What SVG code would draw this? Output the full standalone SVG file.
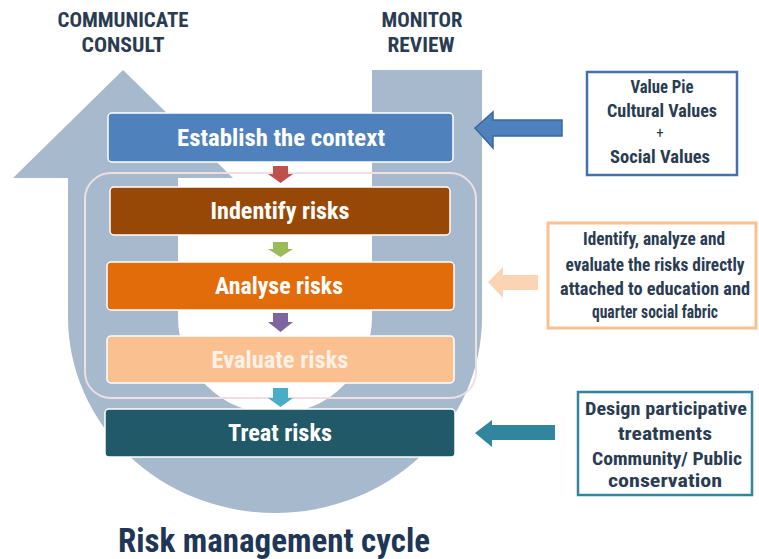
<svg xmlns="http://www.w3.org/2000/svg" width="759" height="559" viewBox="0 0 759 559">
<style>
.lbl{font-family:"Roboto Condensed","Liberation Sans Narrow","DejaVu Sans Condensed",Roboto,"Liberation Sans",sans-serif;font-weight:bold;text-anchor:middle}
.box{font-size:24px;fill:#ffffff}
.hdr{font-size:20px;fill:#2a3c52}
.side{font-size:17.5px;fill:#2a3c52}
.stage{stroke:#ffffff;stroke-width:1.5}
</style>
<rect width="759" height="559" fill="#ffffff"/>
<g id="cycle-arrow">
<path d="M123,70 L233,178 L178,178 L178,317 A97,97 0 0 0 372,317 L372,70 L482,70 L482,317 A207,196 0 0 1 68,317 L68,178 L13,178 Z" fill="#a7b9cd"/>
</g>
<g id="inner-frame">
<rect x="85" y="173" width="391" height="225" rx="26" fill="none" stroke="#eedfe2" stroke-width="2"/>
</g>
<g id="headers">
<text class="lbl hdr" x="123" y="27" textLength="131" lengthAdjust="spacingAndGlyphs">COMMUNICATE</text>
<text class="lbl hdr" x="123" y="52" textLength="83" lengthAdjust="spacingAndGlyphs">CONSULT</text>
<text class="lbl hdr" x="422" y="27" textLength="81" lengthAdjust="spacingAndGlyphs">MONITOR</text>
<text class="lbl hdr" x="421" y="52" textLength="67" lengthAdjust="spacingAndGlyphs">REVIEW</text>
</g>
<g id="establish">
<rect class="stage" x="108" y="113" width="345" height="49" rx="4" fill="#4f81bd"/>
<text class="lbl box" x="281" y="146" textLength="208" lengthAdjust="spacingAndGlyphs">Establish the context</text>
</g>
<g id="identify">
<rect class="stage" x="110" y="187" width="340" height="48" rx="4" fill="#974806"/>
<text class="lbl box" x="280" y="219" textLength="139" lengthAdjust="spacingAndGlyphs">Indentify risks</text>
</g>
<g id="analyse">
<rect class="stage" x="107" y="262" width="347" height="48" rx="4" fill="#e36c0a"/>
<text class="lbl box" x="279" y="294" textLength="128" lengthAdjust="spacingAndGlyphs">Analyse risks</text>
</g>
<g id="evaluate">
<rect class="stage" x="107" y="336" width="347" height="47" rx="4" fill="#fac090"/>
<text class="lbl box" x="280" y="368" textLength="137" lengthAdjust="spacingAndGlyphs" style="fill:#fdf1e6">Evaluate risks</text>
</g>
<g id="treat">
<rect class="stage" x="105" y="409" width="350" height="48" rx="4" fill="#215968"/>
<text class="lbl box" x="280" y="441" textLength="104" lengthAdjust="spacingAndGlyphs">Treat risks</text>
</g>
<g id="connectors">
<path d="M273,166 H288 V174 H293 L280.5,183 L268,174 H273 Z" fill="#c0504d"/>
<path d="M273,242 H288 V249 H293 L280.5,257 L268,249 H273 Z" fill="#9bbb59"/>
<path d="M273,313 H288 V322 H293 L280.5,332 L268,322 H273 Z" fill="#8064a2"/>
<path d="M273,388 H288 V398 H293 L280.5,407 L268,398 H273 Z" fill="#4bacc6"/>
<path d="M562,120 H493 V112 L475,128 L493,148 V136 H562 Z" fill="#4f81bd" stroke="#3a679e" stroke-width="1.5"/>
<path d="M538,275 H503 V267 L488,282 L503,298 V290 H538 Z" fill="#fbd4b4"/>
<path d="M555,425 H492 V420 L475,433 L492,447 V440 H555 Z" fill="#31859c"/>
</g>
<g id="value-pie">
<rect x="587" y="72" width="150" height="103" fill="#ffffff" stroke="#4472a8" stroke-width="2.5"/>
<text class="lbl side" x="662" y="93" textLength="63" lengthAdjust="spacingAndGlyphs">Value Pie</text>
<text class="lbl side" x="662" y="117" textLength="110" lengthAdjust="spacingAndGlyphs">Cultural Values</text>
<text class="lbl side" x="660" y="138" style="font-weight:normal;font-size:15px">+</text>
<text class="lbl side" x="660" y="163" textLength="100" lengthAdjust="spacingAndGlyphs">Social Values</text>
</g>
<g id="identify-note">
<rect x="548" y="223" width="208" height="105" fill="#ffffff" stroke="#fac090" stroke-width="3"/>
<text class="lbl side" x="654" y="245" textLength="142" lengthAdjust="spacingAndGlyphs">Identify, analyze and</text>
<text class="lbl side" x="655" y="271" textLength="179" lengthAdjust="spacingAndGlyphs">evaluate the risks directly</text>
<text class="lbl side" x="655" y="295" textLength="190" lengthAdjust="spacingAndGlyphs">attached to education and</text>
<text class="lbl side" x="655" y="318" textLength="126" lengthAdjust="spacingAndGlyphs">quarter social fabric</text>
</g>
<g id="treatment-note">
<rect x="578" y="392" width="174" height="103" fill="#ffffff" stroke="#31859c" stroke-width="2.5"/>
<text class="lbl side" x="666" y="415" textLength="162" lengthAdjust="spacingAndGlyphs">Design participative</text>
<text class="lbl side" x="665" y="440" textLength="94" lengthAdjust="spacingAndGlyphs">treatments</text>
<text class="lbl side" x="667" y="465" textLength="150" lengthAdjust="spacingAndGlyphs">Community/ Public</text>
<text class="lbl side" x="665" y="487" textLength="114" lengthAdjust="spacingAndGlyphs">conservation</text>
</g>
<g id="title">
<text class="lbl" x="274" y="552" style="font-size:34px;fill:#1f3657" textLength="312" lengthAdjust="spacingAndGlyphs">Risk management cycle</text>
</g>
</svg>
